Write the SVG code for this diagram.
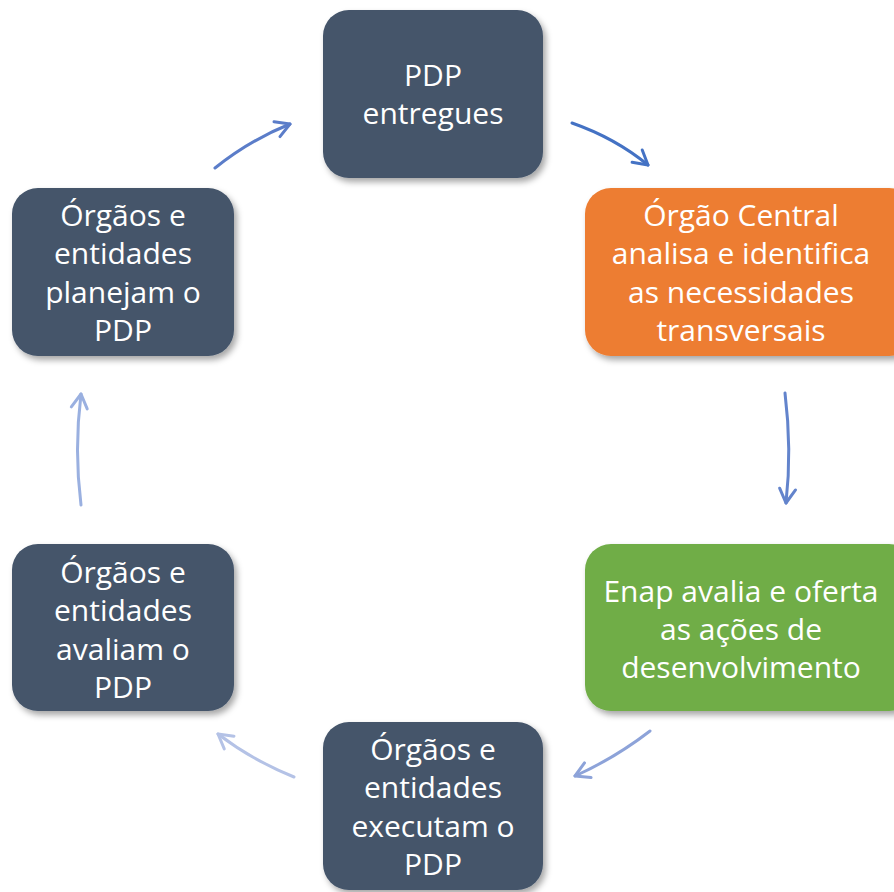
<svg xmlns="http://www.w3.org/2000/svg" width="894" height="892" viewBox="0 0 894 892">
<defs>
<filter id="sh" x="-10%" y="-10%" width="130%" height="130%">
<feDropShadow dx="3" dy="4" stdDeviation="3" flood-color="#000" flood-opacity="0.35"/>
</filter>
<marker id="m1" viewBox="0 0 20 20" refX="16" refY="10" markerWidth="20" markerHeight="20" markerUnits="userSpaceOnUse" orient="auto"><path d="M2,2 L16,10 L2,18" fill="none" stroke="#5B7DC9" stroke-width="3" stroke-linecap="round" stroke-linejoin="round"/></marker>
<marker id="m2" viewBox="0 0 20 20" refX="16" refY="10" markerWidth="20" markerHeight="20" markerUnits="userSpaceOnUse" orient="auto"><path d="M2,2 L16,10 L2,18" fill="none" stroke="#4472C4" stroke-width="3" stroke-linecap="round" stroke-linejoin="round"/></marker>
<marker id="m3" viewBox="0 0 20 20" refX="16" refY="10" markerWidth="20" markerHeight="20" markerUnits="userSpaceOnUse" orient="auto"><path d="M2,2 L16,10 L2,18" fill="none" stroke="#6384CC" stroke-width="3" stroke-linecap="round" stroke-linejoin="round"/></marker>
<marker id="m4" viewBox="0 0 20 20" refX="16" refY="10" markerWidth="20" markerHeight="20" markerUnits="userSpaceOnUse" orient="auto"><path d="M2,2 L16,10 L2,18" fill="none" stroke="#8DA3D9" stroke-width="3" stroke-linecap="round" stroke-linejoin="round"/></marker>
<marker id="m5" viewBox="0 0 20 20" refX="16" refY="10" markerWidth="20" markerHeight="20" markerUnits="userSpaceOnUse" orient="auto"><path d="M2,2 L16,10 L2,18" fill="none" stroke="#B4C2E6" stroke-width="3" stroke-linecap="round" stroke-linejoin="round"/></marker>
<marker id="m6" viewBox="0 0 20 20" refX="16" refY="10" markerWidth="20" markerHeight="20" markerUnits="userSpaceOnUse" orient="auto"><path d="M2,2 L16,10 L2,18" fill="none" stroke="#9AB0E0" stroke-width="3" stroke-linecap="round" stroke-linejoin="round"/></marker>
</defs>
<style>
.box{filter:url(#sh)}
.dark{fill:#44546A}
.orange{fill:#ED7D31}
.green{fill:#70AD47}
text{font-family:"Open Sans","Noto Sans","DejaVu Sans",sans-serif;font-size:30px;fill:#ffffff;text-anchor:middle}
.c{fill:none;stroke-width:3;stroke-linecap:round}
</style>
<rect width="894" height="892" fill="#ffffff"/>
<g id="connectors">
<path class="c" d="M215,168 Q250,140 290,124" stroke="#5B7DC9" marker-end="url(#m1)"/>
<path class="c" d="M572,123 Q615,138 648,165" stroke="#4472C4" marker-end="url(#m2)"/>
<path class="c" d="M785,393 Q792,450 786,503" stroke="#6384CC" marker-end="url(#m3)"/>
<path class="c" d="M650,731 Q615,758 575,776" stroke="#8DA3D9" marker-end="url(#m4)"/>
<path class="c" d="M294,777 Q252,760 218,734" stroke="#B4C2E6" marker-end="url(#m5)"/>
<path class="c" d="M81,505 Q74,450 81,394" stroke="#9AB0E0" marker-end="url(#m6)"/>
</g>
<g id="n1"><rect class="box dark" x="323" y="10" width="220" height="168" rx="26"/>
<text x="433" y="86">PDP</text><text x="433" y="124">entregues</text></g>
<g id="n2"><rect class="box orange" x="585" y="188" width="330" height="168" rx="26"/>
<text x="741" y="226">Órgão Central</text><text x="741" y="264">analisa e identifica</text><text x="741" y="303">as necessidades</text><text x="741" y="341">transversais</text></g>
<g id="n3"><rect class="box green" x="585" y="544" width="330" height="167" rx="26"/>
<text x="741" y="602">Enap avalia e oferta</text><text x="741" y="640">as ações de</text><text x="741" y="678">desenvolvimento</text></g>
<g id="n4"><rect class="box dark" x="323" y="722" width="220" height="168" rx="26"/>
<text x="433" y="760">Órgãos e</text><text x="433" y="798">entidades</text><text x="433" y="837">executam o</text><text x="433" y="875">PDP</text></g>
<g id="n5"><rect class="box dark" x="12" y="544" width="222" height="167" rx="26"/>
<text x="123" y="583">Órgãos e</text><text x="123" y="621">entidades</text><text x="123" y="660">avaliam o</text><text x="123" y="698">PDP</text></g>
<g id="n6"><rect class="box dark" x="12" y="188" width="222" height="168" rx="26"/>
<text x="123" y="226">Órgãos e</text><text x="123" y="264">entidades</text><text x="123" y="303">planejam o</text><text x="123" y="341">PDP</text></g>
</svg>
